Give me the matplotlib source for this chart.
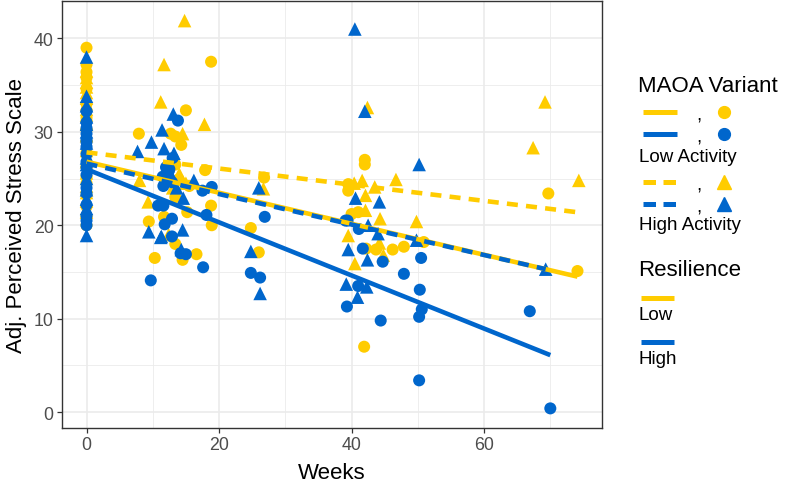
import matplotlib
matplotlib.use("Agg")
import matplotlib.pyplot as plt
from matplotlib.lines import Line2D

plt.rcParams["font.family"] = ["Liberation Sans", "DejaVu Sans"]

YELLOW = "#FFCC00"
BLUE = "#0066CC"

# ---- data ----
# Low resilience / Low activity  (yellow circles)
ll_weeks = [0, 0, 0, 0, 0, 0, 0, 0, 0, 0, 0, 0, 0, 0, 0, 0, 0,
            18.8, 15.0, 7.9, 12.7, 13.4, 14.3, 13.4, 17.9, 13.4, 15.2, 18.8, 11.7, 9.4,
            18.9, 13.4, 14.5, 16.6, 10.3, 13.9, 15.5, 24.8, 26.0, 26.8, 40.0, 39.5, 39.5,
            41.0, 42.0, 42.0, 41.9, 42.2, 43.7, 46.2, 47.9, 50.9, 69.7, 74.1]
ll_stress = [39.0, 37.2, 35.8, 34.6, 33.0, 31.5, 30.2, 29.0, 27.8, 26.3, 24.5, 23.2, 22.0, 21.0,
             20.0, 36.4, 25.2,
             37.5, 32.3, 29.8, 29.8, 29.5, 28.6, 26.5, 25.9, 23.0, 21.4, 22.1, 20.9, 20.4,
             20.0, 18.0, 16.3, 16.9, 16.5, 24.9, 24.2, 19.7, 17.1, 25.1, 21.2, 24.4, 23.7,
             21.4, 27.0, 26.5, 7.0, 17.5, 17.4, 17.4, 17.7, 18.2, 23.4, 15.1]

# Low resilience / High activity  (yellow triangles)
lh_weeks = [0, 0, 0, 0, 0, 0, 0, 0, 0, 0, 0, 0, 0, 0, 0, 0, 0, 0,
            14.8, 11.7, 11.2, 17.8, 14.5, 8.0, 9.3, 12.4, 14.0, 15.0, 13.0, 26.7,
            39.5, 40.5, 42.4, 46.7, 41.6, 40.4, 43.5, 42.1, 42.1, 44.3, 44.2, 49.8,
            44.8, 69.2, 67.4, 74.3]
lh_stress = [36.5, 35.8, 35.3, 34.8, 34.2, 33.6, 33.0, 32.4, 31.8, 30.9, 29.6, 28.0, 26.8, 25.6,
             24.2, 23.5, 22.6, 21.4,
             41.9, 37.2, 33.2, 30.8, 29.8, 24.8, 22.5, 19.0, 25.5, 24.5, 24.0, 23.9,
             18.9, 15.9, 32.6, 24.9, 24.8, 24.5, 24.1, 23.2, 21.6, 20.7, 18.1, 20.4,
             16.8, 33.2, 28.3, 24.8]

# High resilience / Low activity  (blue circles)
hl_weeks = [0, 0, 0, 0, 0, 0, 0, 0, 0, 0, 0, 0, 0, 0, 0, 0, 0,
            13.8, 12.5, 11.5, 12.9, 11.8, 10.8, 11.6, 12.9, 12.9, 18.1, 17.5, 18.9,
            15.0, 17.6, 9.7, 14.2, 13.0, 12.0, 12.4, 11.6, 24.8, 26.2, 26.9,
            39.1, 41.0, 39.3, 44.4, 50.2, 41.1, 41.7, 44.7, 47.9, 50.5, 50.3, 50.6,
            50.2, 66.9, 70.0, 39.4]
hl_stress = [32.2, 31.0, 30.4, 29.8, 29.2, 28.4, 27.6, 26.2, 25.4, 24.0, 23.4, 22.2, 21.0, 20.5,
             20.0, 28.9, 26.8,
             31.2, 26.0, 25.2, 24.6, 20.1, 22.1, 22.1, 20.7, 18.8, 21.1, 23.7, 24.1,
             16.9, 15.5, 14.1, 17.0, 27.2, 26.2, 25.8, 24.2, 14.9, 14.4, 20.9,
             20.5, 13.5, 11.3, 9.8, 3.4, 19.6, 17.5, 16.1, 14.8, 16.5, 13.1, 11.0,
             10.2, 10.8, 0.4, 20.5]

# High resilience / High activity  (blue triangles)
hh_weeks = [0, 0, 0, 0, 0, 0, 0, 0, 0, 0, 0, 0, 0, 0,
            13.1, 11.4, 9.8, 7.7, 11.7, 13.2, 16.2, 14.6, 9.4, 11.3, 14.5, 14.3, 11.2,
            24.8, 26.2, 26.0, 40.5, 42.0, 50.2, 40.6, 44.2, 39.5, 39.2, 40.9, 42.3,
            42.5, 44.0, 42.4, 49.8, 69.3, 12.8, 13.6]
hh_stress = [38.0, 33.8, 32.8, 31.6, 30.0, 28.8, 27.2, 26.5, 25.0, 23.8, 22.8, 21.8, 18.9, 30.8,
             31.9, 30.2, 28.9, 27.9, 28.2, 27.7, 24.8, 22.9, 19.3, 18.8, 19.5, 17.4, 18.7,
             17.2, 12.7, 24.0, 41.0, 32.2, 26.5, 22.9, 22.5, 17.4, 13.7, 12.3, 13.4,
             20.0, 19.1, 16.3, 18.4, 15.3, 25.3, 24.0]

# fitted regression lines (start / end)
ll_fit_x, ll_fit_y = [0, 74.1], [26.8, 14.5]
lh_fit_x, lh_fit_y = [0, 74.0], [27.8, 21.4]
hl_fit_x, hl_fit_y = [0, 70.0], [26.0, 6.1]
hh_fit_x, hh_fit_y = [0, 69.3], [26.6, 15.3]

x_ticks = [0, 20, 40, 60]
y_ticks = [0, 10, 20, 30, 40]

W, H = 792, 485
fig = plt.figure(figsize=(W / 100, H / 100), dpi=100)
ax = fig.add_axes([62 / W, 1 - 429 / H, 540 / W, 427 / H])


def px(x, y):
    return x / W, 1 - y / H


DASH = (2.4, 1.8)

# points
ax.scatter(ll_weeks, ll_stress, s=75, marker="o", color=YELLOW, edgecolors="none", zorder=3)
ax.scatter(lh_weeks, lh_stress, s=95, marker="^", color=YELLOW, edgecolors="none", zorder=3)
ax.scatter(hl_weeks, hl_stress, s=75, marker="o", color=BLUE, edgecolors="none", zorder=3)
ax.scatter(hh_weeks, hh_stress, s=95, marker="^", color=BLUE, edgecolors="none", zorder=3)

# fit lines
ax.plot(ll_fit_x, ll_fit_y, color=YELLOW, lw=3.3, solid_capstyle="butt", zorder=4)
ax.plot(lh_fit_x, lh_fit_y, color=YELLOW, lw=3.3, dashes=DASH, dash_capstyle="butt", zorder=4)
ax.plot(hl_fit_x, hl_fit_y, color=BLUE, lw=3.3, solid_capstyle="butt", zorder=4)
ax.plot(hh_fit_x, hh_fit_y, color=BLUE, lw=3.3, dashes=DASH, dash_capstyle="butt", zorder=4)

ax.set_xlim(-3.7, 77.8)
ax.set_ylim(-1.7, 44.0)
ax.set_xticks(x_ticks)
ax.set_yticks(y_ticks)
ax.set_xticks([10, 30, 50, 70], minor=True)
ax.set_yticks([5, 15, 25, 35], minor=True)
ax.grid(which="major", color="#EBEBEB", lw=1.2, zorder=0)
ax.grid(which="minor", color="#EBEBEB", lw=0.6, zorder=0)
ax.set_axisbelow(True)
ax.tick_params(which="major", length=3.5, width=0.9, color="#333333",
               labelsize=12.8, labelcolor="#4D4D4D", pad=2.5)
ax.tick_params(which="minor", length=0)
for sp in ax.spines.values():
    sp.set_color("#333333")
    sp.set_linewidth(1.0)

ax.set_xlabel("Weeks", fontsize=16, labelpad=6)
ax.set_ylabel("Adj. Perceived Stress Scale", fontsize=16, labelpad=5)

# ---- legend (drawn by hand to mimic ggplot's layout) ----
def key_line(y, color, dashed=False):
    x0, y0 = px(643, y)
    x1, _ = px(677, y)
    ln = Line2D([x0, x1], [y0, y0], transform=fig.transFigure, color=color, lw=3.6)
    if dashed:
        ln.set_dashes((2.5, 1.5))
        ln.set_dash_capstyle("butt")
    else:
        ln.set_solid_capstyle("butt")
    fig.add_artist(ln)


def key_marker(y, color, marker):
    mx, my = px(724, y)
    fig.add_artist(Line2D([mx], [my], transform=fig.transFigure, color=color,
                          marker=marker, markersize=8.5 if marker == "o" else 10, ls="none"))


def key_comma(y):
    cx, cy = px(699, y)
    fig.text(cx, cy, ",", fontsize=13.5, ha="center", va="center", color="black")


fig.text(*px(638, 87), "MAOA Variant", fontsize=16, ha="left", va="center")
rows = [(112.7, YELLOW, False, "o"), (135.3, BLUE, False, "o"),
        (182.7, YELLOW, True, "^"), (205.0, BLUE, True, "^")]
for y, c, d, m in rows:
    key_line(y, c, d)
    key_comma(y + 3)
    key_marker(y, c, m)
fig.text(*px(639, 158), "Low Activity", fontsize=13.5, ha="left", va="center")
fig.text(*px(639, 226), "High Activity", fontsize=13.5, ha="left", va="center")

fig.text(*px(638, 271), "Resilience", fontsize=16, ha="left", va="center")
for y, c in [(299, YELLOW), (343.3, BLUE)]:
    x0, y0 = px(641, y)
    x1, _ = px(674, y)
    fig.add_artist(Line2D([x0, x1], [y0, y0], transform=fig.transFigure, color=c, lw=3.6,
                          solid_capstyle="butt"))
fig.text(*px(638, 316), "Low", fontsize=13.5, ha="left", va="center")
fig.text(*px(638, 359), "High", fontsize=13.5, ha="left", va="center")

fig.savefig("out.png", dpi=100)
